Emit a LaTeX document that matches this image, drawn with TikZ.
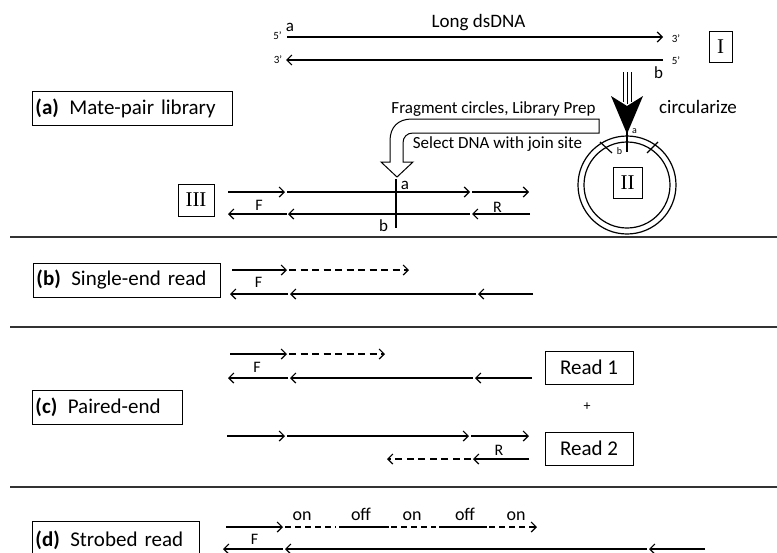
\documentclass[tikz,border=0pt]{standalone}
\usepackage{fontspec}
\setmainfont{Carlito}
\newfontfamily\romfont{Liberation Serif}
\usetikzlibrary{arrows.meta}

\begin{document}
\begin{tikzpicture}[x=1pt, y=-1pt,
  strand/.style={-{Straight Barb[length=5pt,width=10pt]}, line width=1.2pt},
  plain/.style={-, line width=1.2pt},
  gapread/.style={strand, dash pattern=on 7pt off 4.5pt},
  tagbox/.style={draw, line width=0.9pt, anchor=west, align=left, minimum height=34pt, inner xsep=3pt, font=\fontsize{21}{25}\selectfont},
  readbox/.style={draw, line width=0.9pt, minimum width=88pt, minimum height=33pt, font=\fontsize{21}{25}\selectfont},
  stage/.style={draw, line width=0.9pt, inner sep=0pt, minimum height=31pt, font=\romfont\fontsize{21}{25}\selectfont},
  lbl/.style={font=\fontsize{16}{18}\selectfont, inner sep=0pt},
  site/.style={font=\fontsize{17}{19}\selectfont, inner sep=0pt},
  prime/.style={font=\fontsize{11}{12}\selectfont, inner sep=0pt},
  note/.style={font=\fontsize{17}{20}\selectfont, inner sep=0pt, anchor=base},
  sep/.style={-, line width=1.4pt, draw=black!80}]
\useasboundingbox (0,0) rectangle (777,552);

% separators
\coordinate (s1l) at (10,237); \coordinate (s1r) at (777,237);
\coordinate (s2l) at (10,327); \coordinate (s2r) at (777,327);
\coordinate (s3l) at (10,487); \coordinate (s3r) at (777,487);
\path [sep] (s1l) edge (s1r);
\path [sep] (s2l) edge (s2r);
\path [sep] (s3l) edge (s3r);

% (a) mate-pair library
\node[tagbox, text width=194pt] (tagA) at (32,108) {\textbf{(a)}\enspace Mate-pair library};

% I: long dsDNA
\node[font=\fontsize{19}{22}\selectfont, anchor=base, inner sep=0pt] (lds) at (478.5,27) {Long dsDNA};
\coordinate (Itop5) at (287,37); \coordinate (Itop3) at (663,37);
\coordinate (Ibot3) at (286,60); \coordinate (Ibot5) at (663,60);
\path [strand] (Itop5) edge (Itop3);
\path [strand] (Ibot5) edge (Ibot3);
\node[prime] (p5a) at (277.5,36) {5’};
\node[prime] (p3a) at (278,60) {3’};
\node[prime] (p3b) at (676,39) {3’};
\node[prime] (p5b) at (676,61) {5’};
\node[site] (Ia) at (290,27) {a};
\node[site] (Ib) at (658.5,72.5) {b};
\node[stage, minimum width=23pt] (stI) at (720.5,46.5) {I};

% circularize arrow
\coordinate (cz0) at (627,72); \coordinate (cz1) at (627,104);
\coordinate (czL0) at (623,72); \coordinate (czL1) at (623,102);
\coordinate (czR0) at (631,72); \coordinate (czR1) at (631,102);
\path [-, line width=1pt, draw=black] (czL0) edge (czL1);
\path [-, line width=1pt, draw=black] (cz0) edge (cz1);
\path [-, line width=1pt, draw=black] (czR0) edge (czR1);
\fill (611,96) -- (627,106) -- (643,96) -- (627,134) -- cycle;
\node[font=\fontsize{19}{22}\selectfont, anchor=base, inner sep=0pt] (circ) at (698,113) {circularize};

% II: circle
\node[circle, draw, line width=1.2pt, minimum size=98pt, inner sep=0pt] (ringO) at (627,185) {};
\node[circle, draw, line width=1.2pt, minimum size=86pt, inner sep=0pt] (ringI) at (627,185) {};
\coordinate (ja) at (627,128); \coordinate (jb) at (627,152);
\path [plain] (ja) edge (jb);
\coordinate (cutL1) at (600,142); \coordinate (cutL2) at (612,153);
\coordinate (cutR1) at (647,153); \coordinate (cutR2) at (658,142);
\path [plain] (cutL1) edge (cutL2);
\path [plain] (cutR1) edge (cutR2);
\node[font=\fontsize{10}{11}\selectfont, inner sep=0pt] (ca) at (634.5,131.5) {a};
\node[font=\fontsize{10}{11}\selectfont, inner sep=0pt] (cb) at (619.5,151.5) {b};
\node[stage, minimum width=29pt] (stII) at (627.5,182.5) {II};

% hollow bent arrow
\draw[line width=1pt, fill=white] (599,119) -- (412,119) .. controls (398,119) and (390,127) .. (390,141)
  -- (390,162) -- (381,162) -- (397,177) -- (413,162) -- (403,162) -- (403,143)
  .. controls (403,137) and (407,133) .. (413,133) -- (599,133) -- cycle;
\node[note] (frag) at (493.5,113) {Fragment circles, Library Prep};
\node[note] (sel) at (497.5,148) {Select DNA with join site};

% III: library molecule
\node[stage, minimum width=36pt, minimum height=32pt] (stIII) at (196,200) {III};
\coordinate (IIIf0) at (228,192); \coordinate (IIIf1) at (285,192);
\coordinate (IIIm0) at (287,192); \coordinate (IIIm1) at (470,192);
\coordinate (IIIr0) at (472,192); \coordinate (IIIr1) at (529,192);
\coordinate (IIIb0) at (287,214); \coordinate (IIIb1) at (228,214);
\coordinate (IIIc0) at (470,214); \coordinate (IIIc1) at (288,214);
\coordinate (IIId0) at (530,214); \coordinate (IIId1) at (472,214);
\path [strand] (IIIf0) edge (IIIf1);
\path [strand] (IIIm0) edge (IIIm1);
\path [strand] (IIIr0) edge (IIIr1);
\path [strand] (IIIb0) edge (IIIb1);
\path [strand] (IIIc0) edge (IIIc1);
\path [strand] (IIId0) edge (IIId1);
\coordinate (IIIja) at (396,179); \coordinate (IIIjb) at (396,228);
\path [plain] (IIIja) edge (IIIjb);
\node[site] (IIIa) at (405,185) {a};
\node[site] (IIIb) at (383.5,226) {b};
\node[lbl] (IIIF) at (259,205) {F};
\node[lbl] (IIIR) at (497.5,207) {R};

% (b) single-end read
\node[tagbox, text width=181pt] (tagB) at (33,280) {\textbf{(b)}\enspace Single-end read};
\coordinate (Bf0) at (232,270); \coordinate (Bf1) at (287,270);
\coordinate (Bd0) at (289,270); \coordinate (Bd1) at (409,270);
\coordinate (Bb0) at (288,294); \coordinate (Bb1) at (230,294);
\coordinate (Bc0) at (476,294); \coordinate (Bc1) at (290,294);
\coordinate (Be0) at (533,294); \coordinate (Be1) at (478,294);
\path [strand] (Bf0) edge (Bf1);
\path [gapread] (Bd0) edge (Bd1);
\path [strand] (Bb0) edge (Bb1);
\path [strand] (Bc0) edge (Bc1);
\path [strand] (Be0) edge (Be1);
\node[lbl] (BF) at (258.5,282.5) {F};

% (c) paired-end
\node[tagbox, text width=144pt] (tagC) at (32,407.5) {\textbf{(c)}\enspace Paired-end};
\coordinate (Cf0) at (230,354); \coordinate (Cf1) at (287,354);
\coordinate (Cd0) at (289,354); \coordinate (Cd1) at (385,354);
\coordinate (Cb0) at (288,378); \coordinate (Cb1) at (228,378);
\coordinate (Cc0) at (473,378); \coordinate (Cc1) at (290,378);
\coordinate (Ce0) at (532,378); \coordinate (Ce1) at (475,378);
\path [strand] (Cf0) edge (Cf1);
\path [gapread] (Cd0) edge (Cd1);
\path [strand] (Cb0) edge (Cb1);
\path [strand] (Cc0) edge (Cc1);
\path [strand] (Ce0) edge (Ce1);
\node[lbl] (CF) at (257,367) {F};
\coordinate (Cg0) at (227,436); \coordinate (Cg1) at (285,436);
\coordinate (Ch0) at (287,436); \coordinate (Ch1) at (469,436);
\coordinate (Ci0) at (471,436); \coordinate (Ci1) at (529,436);
\coordinate (Cj0) at (471,459); \coordinate (Cj1) at (387,459);
\coordinate (Ck0) at (529,459); \coordinate (Ck1) at (473,459);
\path [strand] (Cg0) edge (Cg1);
\path [strand] (Ch0) edge (Ch1);
\path [strand] (Ci0) edge (Ci1);
\path [gapread] (Cj0) edge (Cj1);
\path [strand] (Ck0) edge (Ck1);
\node[lbl] (CR) at (499,450) {R};
\node[readbox] (read1) at (589,367.5) {Read 1};
\node[font=\fontsize{14}{16}\selectfont, inner sep=0pt] (plus) at (587,407) {+};
\node[readbox] (read2) at (589,448.5) {Read 2};

% (d) strobed read
\node[tagbox, text width=161pt, minimum height=38pt] (tagD) at (32,540) {\textbf{(d)}\enspace Strobed read};
\coordinate (Df0) at (226,527); \coordinate (Df1) at (283,527);
\coordinate (Don1a) at (285,527); \coordinate (Don1b) at (336,527);
\coordinate (Doff1a) at (339,527); \coordinate (Doff1b) at (389,527);
\coordinate (Don2a) at (391,527); \coordinate (Don2b) at (436,527);
\coordinate (Doff2a) at (439,527); \coordinate (Doff2b) at (487,527);
\coordinate (Don3a) at (489,527); \coordinate (Don3b) at (537,527);
\path [strand] (Df0) edge (Df1);
\path [-, line width=1.2pt, dash pattern=on 6pt off 4pt] (Don1a) edge (Don1b);
\path [plain] (Doff1a) edge (Doff1b);
\path [-, line width=1.2pt, dash pattern=on 6pt off 4pt] (Don2a) edge (Don2b);
\path [plain] (Doff2a) edge (Doff2b);
\path [strand, dash pattern=on 6pt off 4pt] (Don3a) edge (Don3b);
\node[note, font=\fontsize{18}{20}\selectfont] (on1) at (302,520) {on};
\node[note, font=\fontsize{18}{20}\selectfont] (off1) at (361,520) {off};
\node[note, font=\fontsize{18}{20}\selectfont] (on2) at (412,520) {on};
\node[note, font=\fontsize{18}{20}\selectfont] (off2) at (465,520) {off};
\node[note, font=\fontsize{18}{20}\selectfont] (on3) at (516,520) {on};
\coordinate (Db0) at (283,549); \coordinate (Db1) at (223,549);
\coordinate (Dc0) at (647,549); \coordinate (Dc1) at (285,549);
\coordinate (De0) at (705,549); \coordinate (De1) at (649,549);
\path [strand] (Db0) edge (Db1);
\path [strand] (Dc0) edge (Dc1);
\path [strand] (De0) edge (De1);
\node[lbl] (DF) at (254.5,539) {F};
\end{tikzpicture}
\end{document}
